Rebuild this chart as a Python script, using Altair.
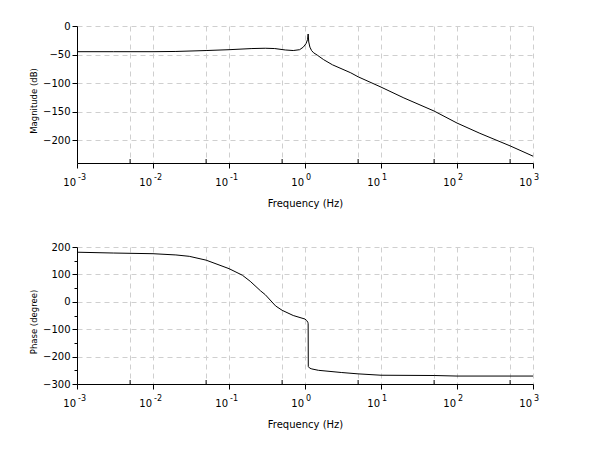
import altair as alt
import pandas as pd

# ---- data ----
mag_freq = [0.001, 0.003, 0.01, 0.02, 0.05, 0.1, 0.2, 0.3, 0.4, 0.55, 0.7, 0.85,
            0.95, 1.03, 1.08, 1.1, 1.12, 1.16, 1.22, 1.3, 1.45, 1.76, 2.3, 4.0,
            5.0, 10, 20, 50, 100, 200, 500, 1000]
mag_db = [-45, -45, -45, -44.6, -43, -41.5, -39.5, -39, -39.5, -42, -43, -41.5,
          -37, -31, -24, -14, -28, -37, -43, -47, -51, -59, -68, -82,
          -89, -107, -126, -149, -170, -188, -210, -228]

phase_freq = [0.001, 0.003, 0.01, 0.02, 0.03, 0.05, 0.1, 0.15, 0.19, 0.26, 0.3,
              0.41, 0.5, 0.7, 1.0, 1.05, 1.09, 1.1, 1.105, 1.15, 1.23, 1.5, 3,
              5, 10, 50, 100, 1000]
phase_deg = [181, 178, 175.5, 171, 166, 152, 121, 97, 75, 40, 26,
             -15, -31, -50, -63, -68, -75, -80, -236, -242, -245, -250, -258,
             -263, -268, -269, -271, -271]

x_decades = [0.001, 0.01, 0.1, 1, 10, 100, 1000]
x_exponents = ["-3", "-2", "-1", "0", "1", "2", "3"]
x_minor = [0.005, 0.05, 0.5, 5, 50, 500]
mag_ticks = [0, -50, -100, -150, -200]
phase_ticks = [200, 150, 100, 50, 0, -50, -100, -150, -200, -250, -300]

FONT = "DejaVu Sans"
GRID = "#cfcfcf"
W, H = 456, 137

is_decade = "abs(log(datum.value)/LN10 - round(log(datum.value)/LN10)) < 0.01"

mag_df = pd.DataFrame({"f": mag_freq, "v": mag_db})
ph_df = pd.DataFrame({"f": phase_freq, "v": phase_deg})
minor_df = pd.DataFrame({"f": x_minor})
lab_df = pd.DataFrame({"f": x_decades, "e": x_exponents, "base": ["10"] * len(x_decades)})

XSCALE = alt.Scale(type="log", domain=[0.001, 1000], nice=False)


def x_axis():
    return alt.Axis(
        values=x_decades + x_minor,
        labels=False,
        title="Frequency (Hz)",
        grid=True, gridDash=[5, 4], gridColor=GRID, gridWidth=1,
        tickSize={"condition": {"test": is_decade, "value": 5}, "value": 0},
        tickColor="black", domainColor="black",
        titleFont=FONT, titleFontSize=10, titleFontWeight="normal",
        titleColor="black", titlePadding=30,
    )


def panel(df, ydomain, yvalues, ytitle, major_step):
    xs = alt.X("f:Q", scale=XSCALE, axis=x_axis())
    minor_cond = f"abs(datum.value % {major_step}) < 0.001"
    yaxis = alt.Axis(
        values=yvalues, title=ytitle,
        grid=True, gridDash=[5, 4], gridColor=GRID,
        gridOpacity={"condition": {"test": minor_cond, "value": 1}, "value": 0},
        tickSize={"condition": {"test": minor_cond, "value": 5}, "value": 3},
        labelExpr=f"({minor_cond}) ? datum.label : ''",
        tickColor="black", domainColor="black",
        labelFont=FONT, labelFontSize=10, labelColor="black", labelPadding=2,
        titleFont=FONT, titleFontSize=8.5, titleFontWeight="normal",
        titleColor="black", titleX=-44, titleY=H / 2 + 6,
        titleAngle=270, titleBaseline="middle", titleAlign="center",
    )
    ys = alt.Y("v:Q", scale=alt.Scale(domain=ydomain, nice=False, zero=False),
               axis=yaxis)
    line = alt.Chart(df).mark_line(color="black", strokeWidth=1).encode(x=xs, y=ys)
    minor = alt.Chart(minor_df).mark_rule(color="black", strokeWidth=1).encode(
        x=alt.X("f:Q", scale=XSCALE),
        y=alt.value(H - 4), y2=alt.value(H),
    )
    base_lbl = alt.Chart(lab_df).mark_text(
        font=FONT, fontSize=10, color="black", align="right", baseline="middle", dx=-1
    ).encode(x=alt.X("f:Q", scale=XSCALE), y=alt.value(H + 20), text="base:N")
    exp_lbl = alt.Chart(lab_df).mark_text(
        font=FONT, fontSize=8, color="black", align="left", baseline="middle", dx=1
    ).encode(x=alt.X("f:Q", scale=XSCALE), y=alt.value(H + 14.5), text="e:N")
    return alt.layer(line, minor, base_lbl, exp_lbl).properties(width=W, height=H)


top = panel(mag_df, [-240, 0], mag_ticks, "Magnitude (dB)", 50)
bottom = panel(ph_df, [-300, 200], phase_ticks, "Phase (degree)", 100)

chart = (
    alt.vconcat(top, bottom, spacing=33)
    .properties(padding={"left": 21, "top": 13, "right": 10, "bottom": 10},
                background="white")
    .configure_view(stroke=None)
)

chart.save("out.html", embed_options={"renderer": "svg", "actions": False})
